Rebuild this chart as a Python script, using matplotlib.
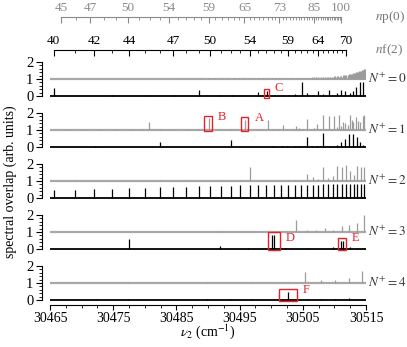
import matplotlib
matplotlib.use('Agg')
import matplotlib.pyplot as plt
from matplotlib.patches import Rectangle

plt.rcParams['font.family'] = ['Liberation Serif', 'DejaVu Serif']
plt.rcParams['mathtext.fontset'] = 'stix'
plt.rcParams['font.size'] = 9.5

# ---- data (cm^-1 positions and heights) ----
# np(0) comb, n = 45 ... 124 (gray sticks in N+=0 panel, also top axis ticks)
np0_pos = [30466.74, 30469.14, 30471.40, 30473.51, 30475.50, 30477.36, 30479.12, 30480.78,
           30482.34, 30483.81, 30485.21, 30486.52, 30487.77, 30488.96, 30490.08, 30491.15,
           30492.17, 30493.14, 30494.06, 30494.94, 30495.77, 30496.57, 30497.34, 30498.07,
           30498.76, 30499.43, 30500.07, 30500.68, 30501.27, 30501.84, 30502.38, 30502.90,
           30503.40, 30503.88, 30504.34, 30504.79, 30505.22, 30505.63, 30506.03, 30506.41,
           30506.78, 30507.14, 30507.48, 30507.82, 30508.14, 30508.45, 30508.75, 30509.04,
           30509.32, 30509.60, 30509.86, 30510.12, 30510.37, 30510.61, 30510.84, 30511.07,
           30511.29, 30511.50, 30511.71, 30511.91, 30512.10, 30512.29, 30512.48, 30512.65,
           30512.83, 30513.00, 30513.16, 30513.32, 30513.48, 30513.63, 30513.78, 30513.92,
           30514.07, 30514.20, 30514.34, 30514.47, 30514.59, 30514.72, 30514.84, 30514.96]
np0_h = [0.02] * 10 + [0.03] * 10 + \
        [0.04, 0.04, 0.04, 0.05, 0.05, 0.05, 0.05, 0.05, 0.06, 0.06,
         0.06, 0.06, 0.07, 0.07, 0.07, 0.07, 0.08, 0.08, 0.08, 0.09,
         0.09, 0.10, 0.10, 0.11, 0.11, 0.12, 0.12, 0.13, 0.13, 0.14,
         0.15, 0.16, 0.17, 0.18, 0.19, 0.20, 0.21, 0.22, 0.23, 0.24,
         0.26, 0.27, 0.29, 0.30, 0.32, 0.33, 0.35, 0.37, 0.39, 0.41,
         0.43, 0.45, 0.47, 0.49, 0.51, 0.53, 0.55, 0.57, 0.60, 0.63]
np0_first_n = 45
np0_last_tick_n = 100
np0_labels = [45, 47, 50, 54, 59, 65, 73, 85, 100]

# nf(2) comb, n = 40 ... 75 (black sticks in N+=2 panel, also top axis ticks)
nf2_pos = [30465.61, 30468.92, 30471.99, 30474.85, 30477.52, 30480.01, 30482.34, 30484.52,
           30486.57, 30488.50, 30490.31, 30492.01, 30493.62, 30495.13, 30496.57, 30497.92,
           30499.21, 30500.42, 30501.58, 30502.68, 30503.72, 30504.71, 30505.65, 30506.55,
           30507.41, 30508.23, 30509.01, 30509.75, 30510.47, 30511.15, 30511.81, 30512.43,
           30513.03, 30513.61, 30514.16, 30514.69]
nf2_h = [0.45, 0.47, 0.52, 0.55, 0.58, 0.60, 0.63, 0.65, 0.67, 0.69, 0.71, 0.72, 0.73, 0.74,
         0.75, 0.76, 0.76, 0.77, 0.77, 0.78, 0.78, 0.78, 0.79, 0.79, 0.79, 0.80, 0.80, 0.80,
         0.80, 0.80, 0.81, 0.81, 0.81, 0.81, 0.81, 0.81]
nf2_first_n = 40
nf2_last_tick_n = 70
nf2_labels = [40, 42, 44, 47, 50, 54, 59, 64, 70]

# N+=0 black sticks
p0_black_x = [30465.68, 30474.76, 30480.19, 30484.67, 30488.58, 30491.90, 30493.85, 30497.86,
              30499.29, 30500.49, 30501.82, 30502.86, 30503.81, 30504.83, 30505.62, 30506.61,
              30507.45, 30508.15, 30509.15, 30509.78, 30510.36, 30511.05, 30511.68, 30512.47,
              30512.90, 30513.42, 30514.05, 30514.53]
p0_black_h = [0.48, 0.04, 0.04, 0.04, 0.37, 0.04, 0.04, 0.23,
              0.30, 0.05, 0.05, 0.05, 0.12, 0.81, 0.15, 0.05,
              0.27, 0.12, 0.37, 0.08, 0.17, 0.35, 0.30, 0.17,
              0.27, 0.52, 0.81, 0.81]

# N+=1
p1_gray_x = [30467.5, 30470.1, 30472.9, 30475.3, 30477.9, 30479.5, 30480.66, 30482.4,
             30484.5, 30486.6, 30488.5, 30490.21, 30491.9, 30493.69, 30495.85, 30497.9,
             30499.54, 30500.33, 30501.03, 30501.82, 30502.55, 30503.24, 30503.88, 30504.45,
             30504.98, 30505.62, 30506.30, 30506.77, 30507.29, 30507.72, 30508.24, 30508.67,
             30509.15, 30509.57, 30509.94, 30510.36, 30510.73, 30511.04, 30511.41, 30511.68,
             30512.10, 30512.47, 30512.74, 30512.99, 30513.42, 30513.69, 30514.05, 30514.48,
             30514.73]
p1_gray_h = [0.03, 0.03, 0.03, 0.03, 0.03, 0.03, 0.45, 0.03,
             0.03, 0.03, 0.03, 0.70, 0.03, 0.04, 0.60, 0.04,
             0.57, 0.05, 0.05, 0.28, 0.05, 0.05, 0.23, 0.13,
             0.07, 0.64, 0.07, 0.13, 0.36, 0.05, 0.89, 0.08,
             0.83, 0.08, 0.83, 0.19, 0.90, 0.23, 0.49, 0.42,
             0.32, 0.89, 0.60, 0.45, 0.74, 0.51, 0.45, 0.80,
             0.89]
p1_black_x = [30472.12, 30482.41, 30493.69, 30500.33, 30501.69, 30502.55, 30503.77, 30504.56,
              30505.62, 30506.40, 30507.19, 30508.24, 30509.29, 30509.72, 30510.36, 30511.04,
              30511.68, 30512.36, 30512.90, 30513.53, 30514.05, 30514.48]
p1_black_h = [0.04, 0.32, 0.42, 0.04, 0.04, 0.04, 0.04, 0.04,
              0.57, 0.04, 0.04, 0.85, 0.04, 0.04, 0.09, 0.28,
              0.47, 0.74, 0.74, 0.57, 0.28, 0.13]

# N+=2 gray sticks (on nf(2) positions)
p2_gray_n = [41, 46, 48, 51, 53, 54, 55, 56, 57, 58, 59, 60, 61, 62, 63, 64, 65, 66, 67, 68,
             69, 70, 71, 72, 73, 74, 75]
p2_gray_h = [0.05, 0.04, 0.04, 0.05, 0.05, 0.82, 0.05, 0.05, 0.05, 0.05, 0.06, 0.07, 0.08,
             0.42, 0.24, 0.13, 0.85, 0.15, 0.27, 0.87, 0.82, 0.93, 0.60, 0.36, 0.87, 0.82, 0.82]

# N+=3
p3_gray_x = [30491.90, 30496.38, 30500.33, 30502.18, 30503.92, 30505.62, 30507.09, 30508.51,
             30509.83, 30511.15, 30512.35, 30513.53, 30514.68]
p3_gray_h = [0.04, 0.04, 0.04, 0.04, 0.69, 0.09, 0.09, 0.24, 0.13, 0.33, 0.42, 0.51, 1.0]
p3_black_x = [30477.55, 30491.90, 30496.38, 30500.08, 30500.44, 30502.18, 30505.62, 30509.83,
              30510.99, 30511.31, 30512.47, 30513.53, 30514.68]
p3_black_h = [0.57, 0.15, 0.04, 0.81, 0.81, 0.04, 0.05, 0.12, 0.47, 0.47, 0.10, 0.08, 0.08]

# N+=4
p4_gray_x = [30477.39, 30489.79, 30496.76, 30502.71, 30505.35, 30507.83, 30510.09, 30512.36,
             30514.37]
p4_gray_h = [0.04, 0.04, 0.04, 0.04, 0.66, 0.15, 0.19, 0.28, 0.70]
p4_black_x = [30472.48, 30477.39, 30489.79, 30493.48, 30496.76, 30502.66, 30505.62, 30507.83,
              30510.09, 30512.36, 30514.37]
p4_black_h = [0.04, 0.04, 0.04, 0.04, 0.04, 0.50, 0.04, 0.05, 0.05, 0.10, 0.06]

# red boxes: (panel, x0, x1, y0, y1, letter, text x, text y)
boxes = [(0, 30498.92, 30499.65, -0.10, 0.44, 'C', 30500.6, 0.48),
         (1, 30489.37, 30490.68, 0.94, 1.82, 'B', 30491.6, 1.78),
         (1, 30495.27, 30496.38, 0.94, 1.75, 'A', 30497.4, 1.70),
         (3, 30499.45, 30501.39, -0.06, 0.98, 'D', 30502.3, 0.66),
         (3, 30510.52, 30511.79, -0.06, 0.63, 'E', 30512.7, 0.66),
         (4, 30501.23, 30504.03, -0.06, 0.62, 'F', 30505.0, 0.59)]

xmin, xmax = 30465, 30515
xticks = [30465, 30475, 30485, 30495, 30505, 30515]

# ---- figure ----
W, H = 407, 347
fig = plt.figure(figsize=(W / 100, H / 100), dpi=100)

GRAY = '#9c9c9c'
LGRAY = '#a8a8a8'
left, width = 50 / W, 316 / W
unit = 17.0
yhi = 2.3
zero_px = [96, 147, 198, 249, 300]

p2_gray_x = [nf2_pos[n - nf2_first_n] for n in p2_gray_n]
panels = [
    (np0_pos, np0_h, p0_black_x, p0_black_h),
    (p1_gray_x, p1_gray_h, p1_black_x, p1_black_h),
    (p2_gray_x, p2_gray_h, nf2_pos, nf2_h),
    (p3_gray_x, p3_gray_h, p3_black_x, p3_black_h),
    (p4_gray_x, p4_gray_h, p4_black_x, p4_black_h),
]

axes = []
for i, (gx, gh, bx, bh) in enumerate(panels):
    z = zero_px[i]
    ylo = -0.3 if i == 4 else -0.5
    bottom = (H - (z - ylo * unit)) / H
    height = (yhi - ylo) * unit / H
    ax = fig.add_axes([left, bottom, width, height])
    ax.set_xlim(xmin, xmax)
    ax.set_ylim(ylo, yhi)
    ax.axhline(1, color=LGRAY, lw=1.6, zorder=1)
    ax.vlines(gx, 1, [1 + h for h in gh], color=GRAY, lw=0.9, zorder=2)
    ax.axhline(0, color='k', lw=1.3, zorder=3)
    ax.vlines(bx, 0, bh, color='k', lw=0.9, zorder=3)
    for s in ['top', 'right']:
        ax.spines[s].set_visible(False)
    ax.spines['left'].set_bounds(0, 2)
    ax.spines['left'].set_position(('outward', 6))
    ax.spines['left'].set_linewidth(0.8)
    ax.set_yticks([0, 1, 2])
    ax.set_yticks([0.2 * k for k in range(11)], minor=True)
    ax.tick_params(axis='y', which='major', length=4, width=0.8, pad=2, labelsize=10.5)
    ax.tick_params(axis='y', which='minor', length=2, width=0.6)
    ax.patch.set_visible(False)
    ax.text(1.005, 1, r'$N^{+}=%d$' % i, transform=ax.get_yaxis_transform(),
            ha='left', va='center', fontsize=9.5, color='#333333')
    if i < 4:
        ax.spines['bottom'].set_visible(False)
        ax.set_xticks([])
    else:
        ax.spines['bottom'].set_linewidth(0.8)
        ax.set_xticks(xticks)
        ax.set_xticks([xmin + 2.5 * k for k in range(21)], minor=True)
        ax.tick_params(axis='x', which='major', length=3.5, width=0.8, pad=1.5, labelsize=10)
        ax.tick_params(axis='x', which='minor', length=2, width=0.6)
    axes.append(ax)

for (pi, x0, x1, y0, y1, letter, tx, ty) in boxes:
    ax = axes[pi]
    ax.add_patch(Rectangle((x0, y0), x1 - x0, y1 - y0, fill=False,
                           edgecolor='#e8202a', lw=1.0, zorder=5))
    ax.text(tx, ty, letter, color='#e8202a', fontsize=9, ha='left', va='center')

fig.text(10 / W, (H - 182) / H, 'spectral overlap (arb. units)', rotation=90,
         ha='center', va='center', fontsize=10)
fig.text((50 + 158) / W, (H - 332) / H, r'$\nu_2$ (cm$^{-1}$)', ha='center', va='center',
         fontsize=10)


# ---- top n axes ----
def n_axis(ypx, pos, first_n, last_n, labels, color, name):
    ax = fig.add_axes([left, (H - ypx) / H, width, 0.0001])
    ax.set_xlim(xmin, xmax)
    for s in ['left', 'right', 'bottom']:
        ax.spines[s].set_visible(False)
    ax.spines['top'].set_color(color)
    ax.spines['top'].set_linewidth(0.8)
    ticks = pos[:last_n - first_n + 1]
    ax.spines['top'].set_bounds(ticks[0], ticks[-1])
    ax.xaxis.set_ticks_position('top')
    ax.set_xticks(ticks, minor=True)
    ax.set_xticks([pos[n - first_n] for n in labels])
    ax.set_xticklabels([str(n) for n in labels])
    ax.tick_params(axis='x', which='major', direction='in', length=4, width=0.8,
                   color=color, labelcolor=color, labelsize=9.5, pad=2)
    ax.tick_params(axis='x', which='minor', direction='in', length=2.5, width=0.6, color=color)
    ax.set_yticks([])
    ax.text(1.03, 0, name, transform=ax.transAxes, ha='left', va='center',
            fontsize=9.5, color='#777777')


n_axis(17, np0_pos, np0_first_n, np0_last_tick_n, np0_labels, '#8a8a8a', r'$n$p(0)')
n_axis(50, nf2_pos, nf2_first_n, nf2_last_tick_n, nf2_labels, 'k', r'$n$f(2)')

fig.savefig('out.png', dpi=100)
